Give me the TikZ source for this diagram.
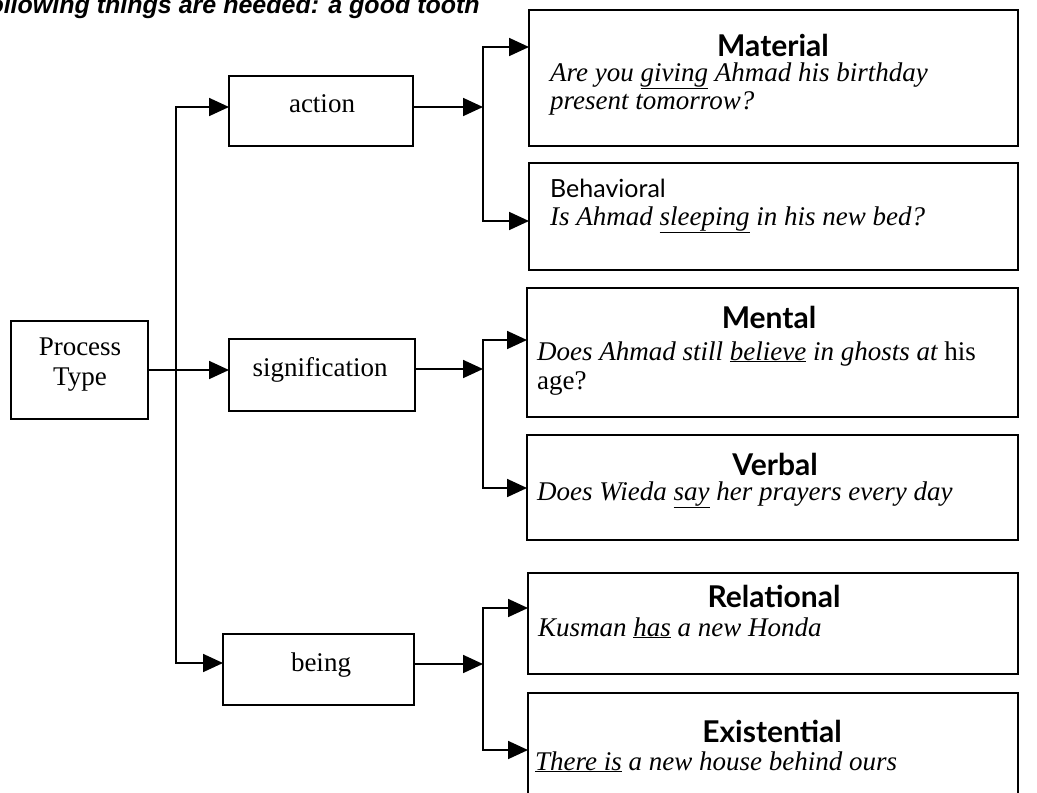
\documentclass[tikz,border=0pt]{standalone}
\usepackage{fontspec}
\setmainfont{Liberation Serif}
\newfontfamily\headfont{Lato}
\newfontfamily\topfont{Liberation Sans}
\usetikzlibrary{arrows.meta}
\begin{document}
\begin{tikzpicture}[x=1pt,y=-1pt,
  box/.style={draw, line width=2.2pt, inner sep=0pt, outer sep=0pt},
  conn/.style={line width=1.8pt},
  Tri/.tip={Triangle[length=20pt,width=18pt]},
  lbl/.style={font=\fontsize{27}{30}\selectfont, inner sep=0pt, anchor=base},
  ex/.style={font=\fontsize{27}{30}\selectfont\itshape, inner sep=0pt, anchor=base west},
  head/.style={font=\headfont\bfseries\fontsize{30}{34}\selectfont, inner sep=0pt, anchor=base},
  subhead/.style={font=\headfont\fontsize{25}{30}\selectfont, inner sep=0pt, anchor=base west},
  toptxt/.style={font=\topfont\bfseries\itshape\fontsize{25}{28}\selectfont, inner sep=0pt, anchor=base west}]
\useasboundingbox (0,0) rectangle (1037,793);
\clip (0,0) rectangle (1037,793);

% cropped line of text at the top
\node[toptxt] (toptext) at (-20,13) {following things are needed: a good tooth};

% left and middle boxes
\node[box, minimum width=137pt, minimum height=98pt] (pt) at (79.5,370) {};
\node[lbl] (ptA) at (80,355) {Process};
\node[lbl] (ptB) at (80,385) {Type};

\node[box, minimum width=184pt, minimum height=70pt] (action) at (321,111) {};
\node[lbl] (actionT) at (322,112) {action};

\node[box, minimum width=186pt, minimum height=72pt] (sig) at (322,375) {};
\node[lbl] (sigT) at (320,376) {signification};

\node[box, minimum width=191pt, minimum height=71pt] (being) at (318.5,669.5) {};
\node[lbl] (beingT) at (321,671) {being};

% right boxes
\node[box, minimum width=489pt, minimum height=136pt] (material) at (773.5,78) {};
\node[head] (materialH) at (773,56) {Material};
\node[ex] (materialA) at (550,81) {Are you \underline{giving} Ahmad his birthday};
\node[ex] (materialB) at (550,109) {present tomorrow?};

\node[box, minimum width=489pt, minimum height=107pt] (behav) at (773.5,216.5) {};
\node[subhead] (behavH) at (550,197) {Behavioral};
\node[ex] (behavA) at (550,225) {Is Ahmad \underline{sleeping} in his new bed?};

\node[box, minimum width=491pt, minimum height=129pt] (mental) at (772.5,352.5) {};
\node[head] (mentalH) at (769,328) {Mental};
\node[ex] (mentalA) at (537,360) {Does Ahmad still \underline{believe} in ghosts at {\upshape his}};
\node[ex] (mentalB) at (537,389) {\upshape age?};

\node[box, minimum width=491pt, minimum height=105pt] (verbal) at (772.5,487.5) {};
\node[head] (verbalH) at (775,475) {Verbal};
\node[ex] (verbalA) at (537,500) {Does Wieda \underline{say} her prayers every day};

\node[box, minimum width=490pt, minimum height=101pt] (relational) at (773,623.5) {};
\node[head] (relationalH) at (774,607) {Relational};
\node[ex] (relationalA) at (538,636) {Kusman \underline{has} a new Honda};

\node[box, minimum width=490pt, minimum height=127pt] (existential) at (773,756.5) {};
\node[head] (existentialH) at (772,742) {Existential};
\node[ex] (existentialA) at (535,770) {\underline{There is} a new house behind ours};

% first level connectors
\coordinate (a1) at (176,107);
\coordinate (b1) at (176,663);
\draw[conn, {Tri}-{Tri}] (action.west |- a1) -- (a1) -- (b1) -- (being.west |- b1);
\draw[conn, -{Tri}] (pt.east) -- (pt.east -| sig.west);

% action branch
\coordinate (c2) at (483,107);
\coordinate (m2) at (483,47);
\coordinate (h2) at (483,221);
\draw[conn, -{Tri}] (action.east |- c2) -- (c2);
\draw[conn, {Tri}-{Tri}] (material.west |- m2) -- (m2) -- (h2) -- (behav.west |- h2);

% signification branch
\coordinate (c3) at (483,369);
\coordinate (m3) at (483,340);
\coordinate (v3) at (483,488);
\draw[conn, -{Tri}] (sig.east |- c3) -- (c3);
\draw[conn, {Tri}-{Tri}] (mental.west |- m3) -- (m3) -- (v3) -- (verbal.west |- v3);

% being branch
\coordinate (c4) at (483,664);
\coordinate (r4) at (483,608);
\coordinate (e4) at (483,750);
\draw[conn, -{Tri}] (being.east |- c4) -- (c4);
\draw[conn, {Tri}-{Tri}] (relational.west |- r4) -- (r4) -- (e4) -- (existential.west |- e4);
\end{tikzpicture}
\end{document}
